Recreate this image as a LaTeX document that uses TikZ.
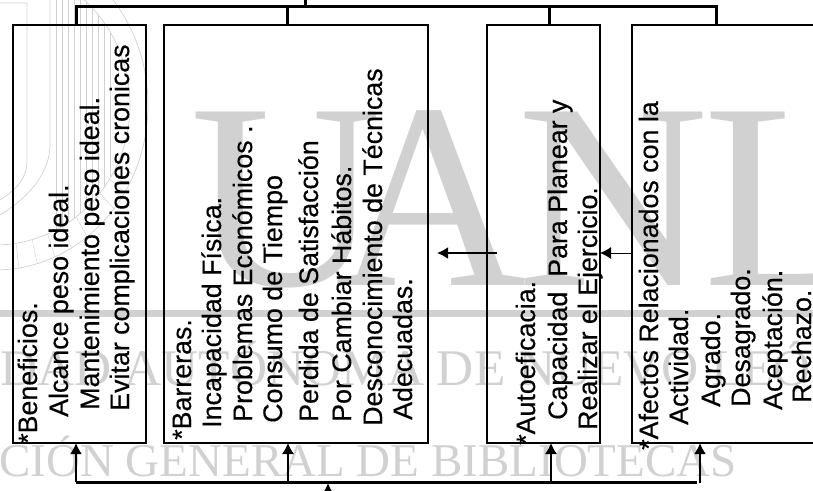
\documentclass[tikz,border=0pt]{standalone}
\usepackage{fontspec}
\setmainfont{Liberation Sans}
\newfontfamily\cajafont[RawFeature={embolden=0.4}]{Liberation Sans}
\newfontfamily\marcafont{Liberation Serif}
\usepackage{xcolor}
\usetikzlibrary{arrows.meta, positioning, calc}
\definecolor{marcagris}{gray}{0.82}
\tikzset{
  marca/.style={text=marcagris, font=\marcafont\fontsize{265}{265}\selectfont, anchor=base west, inner sep=0pt},
  marcalinea/.style={text=marcagris, font=\marcafont\fontsize{51.4}{52}\selectfont, inner sep=0pt},
  sello/.style={draw=marcagris, line width=0.7pt},
  caja/.style={draw=black, line width=2.8pt, minimum height=418pt, inner sep=0pt, outer sep=0pt, anchor=north west},
  linea/.style={rotate=90, anchor=base west, inner sep=0pt, font=\cajafont\fontsize{26.8}{27}\selectfont, text=black},
  bus/.style={draw=black, line width=3pt},
  flecha/.style={draw=black, line width=2pt, -{Latex[length=11pt,width=12pt]}}
}
\begin{document}
\begin{tikzpicture}[x=1pt, y=-1pt]
\useasboundingbox (0,0) rectangle (813,490);

% marca de agua
\node[marca] (letraU) at (190,285) {U};
\node[marca] (letraA) at (335,285) {A};
\node[marca] (letraN) at (517,285) {N};
\begin{scope}
  \clip (0,0) rectangle (813,490);
  \node[marca] (letraL) at (703,285) {L};
\end{scope}
\draw[marcagris, line width=7pt] (0,313) -- (813,313);
\node[marcalinea, anchor=base west] (lineaUni) at (0,385) {DAD AUTÓNOMA DE NUEVO LEÓ};
\node[marcalinea, anchor=base east, font=\marcafont\fontsize{47}{48}\selectfont] (lineaDir) at (737,476) {CIÓN GENERAL DE BIBLIOTECAS};

% sello
\begin{scope}
  \clip (0,0) rectangle (813,490);
  \draw[sello] (0,3) -- (27,3) -- (27,160) .. controls (27,180) and (15,190) .. (0,200);
  \draw[sello] (50,0) -- (50,145) .. controls (50,175) and (25,200) .. (0,215);
  \draw[sello] (-5,105) ellipse (153pt and 165pt);
  \draw[sello] (-5,105) ellipse (135pt and 140pt);
  \begin{scope}
    \clip (-5,105) ellipse (135pt and 140pt);
    \foreach \xlinea in {56,62,...,110} {
      \draw[sello, line width=0.4pt] (\xlinea,0) -- (\xlinea,245);
    }
  \end{scope}
  \foreach \angulo in {25,32,...,85} {
    \draw[sello, line width=0.4pt] ($(-5,105)+({135*cos(\angulo)},{140*sin(\angulo)})$) -- ($(-5,105)+({153*cos(\angulo)},{165*sin(\angulo)})$);
  }
\end{scope}

% cajas
\node[caja, minimum width=133pt] (beneficios) at (13,25) {};
\node[caja, minimum width=264pt] (barreras) at (164,25) {};
\node[caja, minimum width=113pt] (autoeficacia) at (487,25) {};
\node[caja, minimum width=200pt] (afectos) at (632,25) {};

% textos
\node[linea] (ben0) at (37,444) {*Beneficios.};
\node[linea] (ben1) at (68,417) {Alcance peso ideal.};
\node[linea] (ben2) at (99,410) {Mantenimiento peso ideal.};
\node[linea] (ben3) at (129,411) {Evitar complicaciones cronicas};

\node[linea] (bar0) at (191,440) {*Barreras.};
\node[linea] (bar1) at (221,428) {Incapacidad Física.};
\node[linea] (bar2) at (252,422) {Problemas Económicos .};
\node[linea] (bar3) at (282,423) {Consumo de Tiempo};
\node[linea] (bar4) at (318,422) {Perdida de Satisfacción};
\node[linea] (bar5) at (351,422) {Por Cambiar Hábitos.};
\node[linea] (bar6) at (382,426) {Desconocimiento de Técnicas};
\node[linea] (bar7) at (412,420) {Adecuadas.};

\node[linea] (aut0) at (535,445) {*Autoeficacia.};
\node[linea] (aut1) at (567,420) {Capacidad\ \ Para Planear y};
\node[linea] (aut2) at (597,430) {Realizar el Ejercicio.};

\node[linea] (afe0) at (658,450) {*Afectos Relacionados con la};
\node[linea] (afe1) at (688,425) {Actividad.};
\node[linea] (afe2) at (720,407) {Agrado.};
\node[linea] (afe3) at (750,407) {Desagrado.};
\node[linea] (afe4) at (782,410) {Aceptación.};
\node[linea] (afe5) at (811,403) {Rechazo.};

% conectores de arriba
\coordinate (busArriba) at (305,6);
\coordinate (salida) at (305,0);
\draw[bus] (busArriba) -- (salida);
\draw[bus] (beneficios.north -| 76,0) |- (busArriba) -| (afectos.north -| 716,0);
\draw[bus] (barreras.north -| 287,0) -- (287,6);
\draw[bus] (autoeficacia.north -| 549,0) -- (549,6);

% conectores de abajo
\coordinate (busAbajo) at (328,483);
\coordinate (entrada) at (328,497);
\draw[bus] (76,482) -- (697,482);
\draw[flecha] (76,482) -- (beneficios.south -| 76,0);
\draw[flecha, line width=1.3pt] (288,482) -- (barreras.south -| 288,0);
\draw[flecha, line width=1.3pt] (551,482) -- (autoeficacia.south -| 551,0);
\draw[flecha, line width=2.6pt] (700,483) -- (afectos.south -| 700,0);
\draw[flecha] (entrada) -- (busAbajo);

% flechas entre cajas
\coordinate (salidaAuto) at (497,253);
\coordinate (puntaAuto) at (437,253);
\draw[flecha, line width=2.4pt] (salidaAuto) -- (puntaAuto);
\draw[flecha, line width=1pt] (afectos.west |- salidaAuto) -- (autoeficacia.east |- salidaAuto);
\end{tikzpicture}
\end{document}
